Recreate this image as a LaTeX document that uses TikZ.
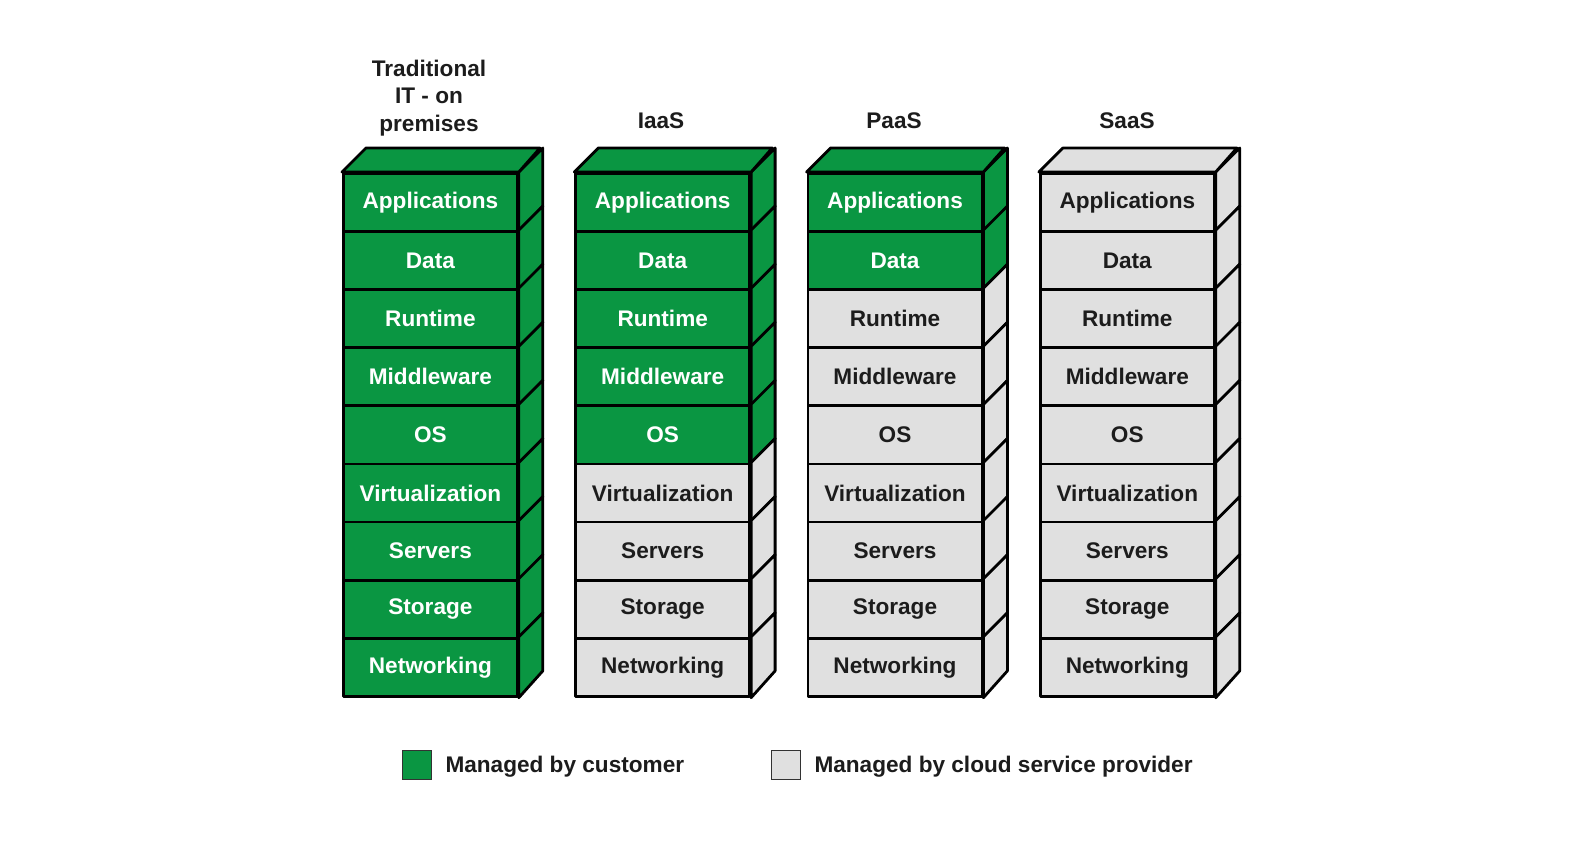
\documentclass[tikz,border=0pt]{standalone}
\usepackage{fontspec}
\setmainfont{Liberation Sans}
\definecolor{mgreen}{RGB}{10,150,66}
\definecolor{mgray}{RGB}{224,224,224}
\definecolor{mtext}{RGB}{28,28,28}
\begin{document}
\begin{tikzpicture}[x=1pt,y=-1pt,
  face/.style={draw=black,line width=2.8pt,line join=round,minimum width=174pt,minimum height=58.1pt,inner sep=0pt,anchor=north west,
    font=\bfseries\fontsize{22.6}{26}\selectfont},
  greenface/.style={face,fill=mgreen,text=white},
  grayface/.style={face,fill=mgray,text=mtext},
  edge/.style={draw=black,line width=2.8pt,line join=round},
  title/.style={font=\bfseries\fontsize{22.6}{27.5}\selectfont,text=mtext,align=center},
  legtext/.style={font=\bfseries\fontsize{22.6}{26}\selectfont,text=mtext,anchor=west},
  legbox/.style={draw=black!80,line width=1.5pt,minimum size=29pt,inner sep=0pt}
]
\useasboundingbox (0,0) rectangle (1592,842);
\fill[white] (0,0) rectangle (1592,842);
\foreach \c/\ng in {0/9,1/5,2/2,3/0}{
  \pgfmathsetmacro\xl{342+232.3*\c}
  \foreach \lab [count=\r] in {Applications,Data,Runtime,Middleware,OS,Virtualization,Servers,Storage,Networking}{
    \pgfmathsetmacro\yt{172+58.1*(\r-1)}
    \ifnum\r>\ng
      \node[grayface] (c\c r\r) at (\xl,\yt) {\lab};
      \path[edge,fill=mgray] (c\c r\r.north east) -- ++(24,-24) -- ++(0,58.1) -- (c\c r\r.south east) -- cycle;
    \else
      \node[greenface] (c\c r\r) at (\xl,\yt) {\lab};
      \path[edge,fill=mgreen] (c\c r\r.north east) -- ++(24,-24) -- ++(0,58.1) -- (c\c r\r.south east) -- cycle;
    \fi
  }
  \ifnum\ng>0
    \path[edge,fill=mgreen] (c\c r1.north west) -- ++(24,-24) -- ++(174,0) -- (c\c r1.north east) -- cycle;
  \else
    \path[edge,fill=mgray] (c\c r1.north west) -- ++(24,-24) -- ++(174,0) -- (c\c r1.north east) -- cycle;
  \fi
}
\node[title] (t0) at (429,98) {Traditional\\IT - on\\premises};
\node[title] (t1) at (661,121) {IaaS};
\node[title] (t2) at (894,121) {PaaS};
\node[title] (t3) at (1127,121) {SaaS};
\node[legbox,fill=mgreen] (lg) at (417,765) {};
\node[legtext] (lgt) at (442,767) {Managed by customer};
\node[legbox,fill=mgray] (ly) at (786,765) {};
\node[legtext] (lyt) at (811,767) {Managed by cloud service provider};
\end{tikzpicture}
\end{document}
